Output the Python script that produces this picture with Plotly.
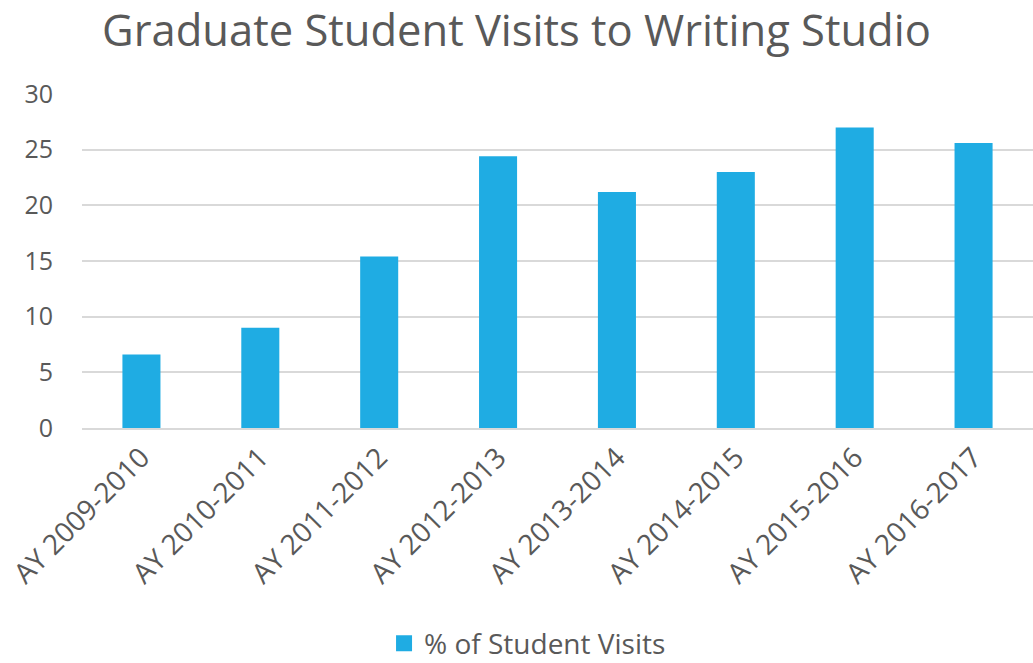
import plotly.graph_objects as go

categories = ["AY 2009-2010", "AY 2010-2011", "AY 2011-2012", "AY 2012-2013",
              "AY 2013-2014", "AY 2014-2015", "AY 2015-2016", "AY 2016-2017"]
visits = [6.6, 9.0, 15.4, 24.4, 21.2, 23.0, 27.0, 25.6]
y_ticks = [0, 5, 10, 15, 20, 25, 30]
series_name = "% of Student Visits"

font_family = "'Open Sans', sans-serif"
text_color = "#595959"
bar_color = "#1FACE3"

fig = go.Figure()
fig.add_trace(go.Bar(
    x=categories, y=visits, name=series_name, showlegend=False,
    marker=dict(color=bar_color, line=dict(width=0)),
))
# legend entry with a larger square swatch
fig.add_trace(go.Scatter(
    x=[None], y=[None], mode="markers", name=series_name,
    marker=dict(symbol="square", size=17, color=bar_color),
))

fig.update_layout(
    width=1033, height=663,
    paper_bgcolor="white", plot_bgcolor="white",
    margin=dict(l=82, r=0, t=94, b=235, autoexpand=False),
    bargap=0.68,
    title=dict(text="Graduate Student Visits to Writing Studio", x=0.5, xanchor="center",
               y=1 - 31/663, yanchor="middle",
               font=dict(family=font_family, size=43.5, color=text_color)),
    font=dict(family=font_family, color=text_color),
    showlegend=True,
    legend=dict(orientation="h", x=0.4685, xanchor="center", y=-0.645, yanchor="middle",
                font=dict(size=28, color=text_color), itemwidth=30),
    xaxis=dict(tickangle=-45, tickfont=dict(size=28, color=text_color),
               showgrid=False, showline=True, linecolor="#D9D9D9", linewidth=2,
               ticks="", automargin=False),
    yaxis=dict(range=[0, 30], tickvals=y_ticks, tickfont=dict(size=25, color=text_color),
               showgrid=True, gridcolor="#D9D9D9", gridwidth=2, zeroline=False,
               showline=False, ticklabelstandoff=28, automargin=False),
)

fig.write_html("out.html", config={"displayModeBar": False},
               post_script="document.body.style.margin='0';")
